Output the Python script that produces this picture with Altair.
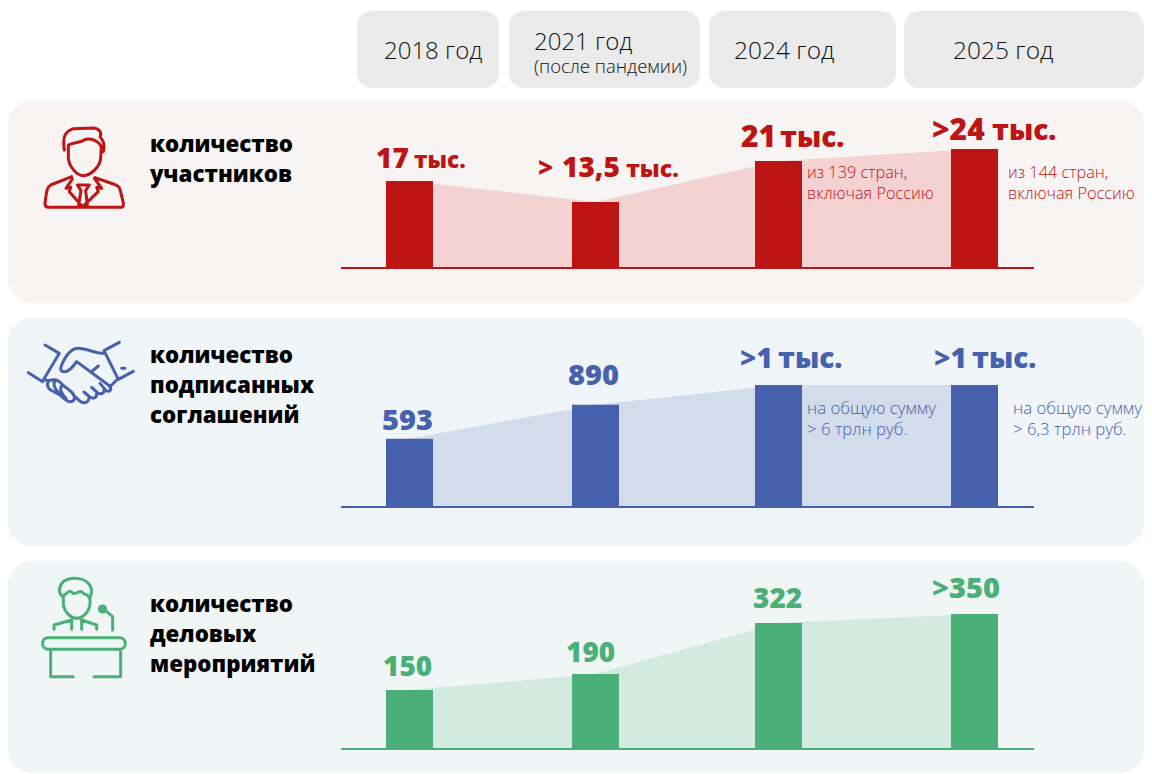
import altair as alt
import pandas as pd

years = [2018, 2021, 2024, 2025]
participants = [17.4, 13.2, 21.4, 23.8]
agreements = [593, 890, 1060, 1060]
events = [151, 192, 323, 346]

OX = 8
BAR_X = [409.5 - OX, 595.5 - OX, 778.5 - OX, 974.5 - OX]
W = 1136
BODY = "Open Sans"
ONE = alt.Data(values=[{"a": 1}])


def text(s, x, y, size, color, weight=300, font=BODY, align="left"):
    return alt.Chart(ONE).mark_text(
        text=s, fontSize=size, font=font, fontWeight=weight, color=color,
        align=align, baseline="alphabetic"
    ).encode(x=alt.value(x - OX), y=alt.value(y))


PERSON = ("M133 120 C128 85 132 65 160 56 L222 54 C240 58 246 68 240 80 C252 95 255 105 250 125 "
          "M145 105 C165 95 180 100 197 88 C215 85 235 92 243 108 "
          "M145 105 L145 145 C148 170 170 197 190 197 C212 197 240 170 242 145 L244 108 "
          "M155 200 L92 225 C82 230 80 240 75 280 C75 290 80 292 85 292 L300 292 C312 292 312 285 308 270 L300 238 C298 228 290 225 280 222 L225 203 "
          "M157 207 L138 235 L152 232 L148 245 L188 290 L235 245 L230 232 L245 235 L223 205 "
          "M172 225 L208 225 L197 242 L202 285 M183 242 L176 285 M172 225 L183 242 M208 225 L197 242")
SHAKE = ("M75 45 L118 70 M25 128 L68 155 M118 70 L70 150 M298 37 L252 62 M340 124 L295 148 M252 62 L295 148 "
         "M252 70 C230 72 200 55 175 55 C155 55 140 70 125 105 C118 122 125 127 135 125 C150 125 162 105 170 95 "
         "L265 165 C278 175 272 188 258 182 L240 160 "
         "M252 178 C255 190 242 195 232 188 L215 172 M230 188 C232 205 218 208 208 200 L192 186 "
         "M208 200 C205 222 190 222 178 212 L160 195 M215 125 L235 108 M290 150 L272 168 "
         "M75 150 L88 152 C105 145 118 152 128 165 L150 182 C168 195 168 215 150 215 C140 215 130 205 120 195 L92 180 C80 172 80 158 88 152 "
         "M108 150 C95 160 105 178 118 190 M128 165 C115 175 125 192 138 205 M305 115 L315 115")
SPEAKER = ("M98 80 C85 70 85 50 100 35 C120 20 160 22 175 40 C190 55 185 75 178 85 "
           "M98 80 C110 70 120 55 128 70 C140 75 150 55 160 70 C170 75 178 75 178 85 "
           "M100 80 L100 105 C105 130 125 145 140 145 C155 145 175 130 180 105 L180 85 "
           "M72 178 L72 165 L125 150 L125 178 M155 178 L155 150 L200 165 L200 178 "
           "M230 125 L248 140 L248 180 "
           "M55 203 L268 203 C292 203 292 238 268 238 L55 238 C32 238 32 203 55 203 "
           "M62 240 L62 320 L130 320 M272 240 L272 320 L192 320")


def icon(path, x, y, color):
    return alt.Chart(ONE).mark_point(
        shape=path, size=4 / 9, filled=False, stroke=color, strokeWidth=3,
        strokeCap="round", strokeJoin="round", opacity=1
    ).encode(x=alt.value(x - OX), y=alt.value(y))


def panel(values, top, height, base, px_per_unit, fill, area_col, col, extras):
    df = pd.DataFrame({"year": years, "value": values})
    b = base - top
    dom = max(values)
    xs = alt.X("year:Q", scale=alt.Scale(domain=years, range=BAR_X, zero=False, nice=False, padding=0), axis=None)
    ys = alt.Y("value:Q", scale=alt.Scale(domain=[0, dom], range=[b, b - dom * px_per_unit], nice=False, padding=0), axis=None)
    area = alt.Chart(df).mark_area(color=area_col, opacity=1).encode(x=xs, y=ys)
    bars = alt.Chart(df).mark_bar(color=col, size=47, orient="vertical").encode(x=xs, y=ys)
    rule = alt.Chart(ONE).mark_rule(color=col, strokeWidth=2).encode(
        x=alt.value(341 - OX), x2=alt.value(1034 - OX), y=alt.value(b))
    return alt.layer(area, bars, rule, *extras).properties(
        width=W, height=height,
        view=alt.ViewBackground(fill=fill, stroke=None, cornerRadius=24))


pills = [(357, 499), (509, 700), (709, 896), (904, 1160)]
hl = []
for a, c in pills:
    hl.append(alt.Chart(ONE).mark_rect(color="#ebebeb", cornerRadius=15).encode(
        x=alt.value(a - OX), x2=alt.value(min(c - OX, W)), y=alt.value(3), y2=alt.value(80)))
HC = "#111111"
hl += [
    text("2018 год", 384, 51, 24, HC),
    text("2021 год", 534, 42, 24, HC),
    text("(после пандемии)", 534, 65, 18.5, HC),
    text("2024 год", 734, 51, 24.5, HC),
    text("2025 год", 953, 51, 24.5, HC),
]
header = alt.layer(*hl).properties(width=W, height=77, view=alt.ViewBackground(fill="white", stroke=None))

RED = "#bd1414"
T = 100
red_x = [
    text("количество", 150, 152 - T, 22.3, "black", 800),
    text("участников", 150, 182 - T, 22.3, "black", 800),
    icon(PERSON, 20, 110 - T, RED),
    text("17", 376, 168 - T, 28, RED, 800),
    text("тыс.", 414, 168 - T, 22.5, RED, 800),
    text(">", 538, 177 - T, 26, RED, 800),
    text("13,5", 562, 177 - T, 28, RED, 800),
    text("тыс.", 626, 177 - T, 23, RED, 800),
    text("21", 741, 147 - T, 30, RED, 800),
    text("тыс.", 780, 147 - T, 28, RED, 800),
    text(">24", 932, 140 - T, 30, RED, 800),
    text("тыс.", 992, 140 - T, 28, RED, 800),
    text("из 139 стран,", 807, 178 - T, 16.3, RED),
    text("включая Россию", 807, 199 - T, 16.3, RED),
    text("из 144 стран,", 1008, 178 - T, 16.3, RED),
    text("включая Россию", 1008, 199 - T, 16.3, RED),
]
red = panel(participants, T, 203, 268, 5, "#f8f4f4", "#f4d2d2", RED, red_x)

BLUE = "#4661ad"
T = 318
blue_x = [
    text("количество", 150, 363 - T, 22.3, "black", 800),
    text("подписанных", 150, 393 - T, 22.3, "black", 800),
    text("соглашений", 150, 423 - T, 22.3, "black", 800),
    icon(SHAKE, 20, 330 - T, BLUE),
    text("593", 382, 430 - T, 29, BLUE, 800),
    text("890", 568, 385 - T, 29, BLUE, 800),
    text(">1", 740, 368 - T, 28, BLUE, 800),
    text("тыс.", 778, 368 - T, 28, BLUE, 800),
    text(">1", 934, 368 - T, 28, BLUE, 800),
    text("тыс.", 972, 368 - T, 28, BLUE, 800),
    text("на общую сумму", 807, 414 - T, 16.8, BLUE),
    text("> 6 трлн руб.", 807, 435 - T, 16.8, BLUE),
    text("на общую сумму", 1013, 414 - T, 16.8, BLUE),
    text("> 6,3 трлн руб.", 1013, 435 - T, 16.8, BLUE),
]
blue = panel(agreements, T, 228, 507, 0.115, "#f0f5fa", "#d3dcea", BLUE, blue_x)

GREEN = "#4bb077"
T = 561
green_x = [
    text("количество", 150, 612 - T, 22.3, "black", 800),
    text("деловых", 150, 642 - T, 22.3, "black", 800),
    text("мероприятий", 150, 672 - T, 22.3, "black", 800),
    icon(SPEAKER, 30, 570 - T, GREEN),
    alt.Chart(ONE).mark_point(shape="circle", size=85, filled=True, color=GREEN, opacity=1).encode(
        x=alt.value(102.5 - OX), y=alt.value(609 - T)),
    text("150", 383, 676 - T, 28, GREEN, 800),
    text("190", 566, 662 - T, 28, GREEN, 800),
    text("322", 753, 608 - T, 28, GREEN, 800),
    text(">350", 932, 598 - T, 29, GREEN, 800),
]
green = panel(events, T, 212, 749, 0.39, "#f0f6f5", "#d2eadf", GREEN, green_x)

chart = alt.vconcat(header, red, blue, green, spacing=15, bounds="flush").properties(
    padding=0, background="white"
).configure_view(stroke=None)

chart.save("out.html", embed_options={"renderer": "svg", "actions": False})
